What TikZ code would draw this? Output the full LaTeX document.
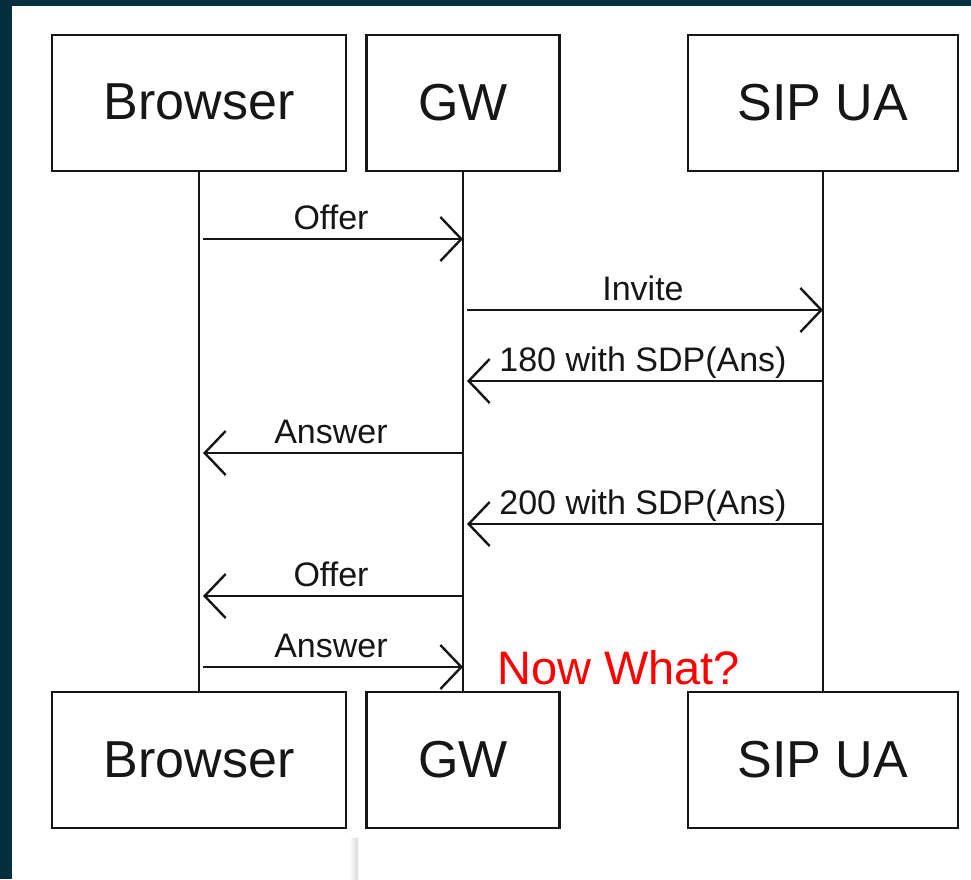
\documentclass[tikz,border=0pt]{standalone}
\usepackage{fontspec}
\setmainfont{Liberation Sans}
\usetikzlibrary{arrows.meta}

\definecolor{slate}{RGB}{6,47,61}
\definecolor{ink}{RGB}{22,22,22}

\begin{document}
\begin{tikzpicture}[x=1pt, y=-1pt,
    actor/.style={draw=ink, line width=2.4pt, fill=white, inner sep=0pt, text=ink,
        minimum height=136pt, font=\fontsize{52}{60}\selectfont, text depth=0.18em},
    life/.style={draw=ink, line width=2.4pt},
    msg/.style={draw=ink, line width=2.4pt,
        -{Straight Barb[length=21pt, width=44pt, line width=2.4pt]}},
    lbl/.style={text=ink, font=\fontsize{34}{40}\selectfont, anchor=base,
        yshift=10pt, inner sep=0pt}]
    \useasboundingbox (0,0) rectangle (971,879);

    % Frame
    \fill[slate] (0,0) rectangle (971,6);
    \fill[slate] (0,0) rectangle (12,879);
    \shade[left color=white, right color=black!15] (349,838) rectangle (358,879);

    % Participants, top and bottom
    \node[actor, minimum width=294pt] (bt) at (199,103) {Browser};
    \node[actor, minimum width=193pt] (gt) at (463,103) {GW};
    \node[actor, minimum width=270pt] (st) at (823,103) {SIP UA};
    \node[actor, minimum width=294pt] (bb) at (199,760) {Browser};
    \node[actor, minimum width=193pt] (gb) at (463,760) {GW};
    \node[actor, minimum width=270pt] (sb) at (823,760) {SIP UA};

    % Lifelines
    \draw[life] (bt.south) -- (bb.north);
    \draw[life] (gt.south) -- (gb.north);
    \draw[life] (st.south) -- (sb.north);

    % Messages
    \draw[msg, shorten <=4pt] (bt.south |- 0,239) -- node[lbl] {Offer} (gt.south |- 0,239);
    \draw[msg, shorten <=4pt] (gt.south |- 0,310) -- node[lbl] {Invite} (st.south |- 0,310);
    \draw[msg, shorten >=4pt] (st.south |- 0,381) -- node[lbl] {180 with SDP(Ans)} (gt.south |- 0,381);
    \draw[msg, shorten >=4pt] (gt.south |- 0,453) -- node[lbl] {Answer} (bt.south |- 0,453);
    \draw[msg, shorten >=4pt] (st.south |- 0,524) -- node[lbl] {200 with SDP(Ans)} (gt.south |- 0,524);
    \draw[msg, shorten >=4pt] (gt.south |- 0,596) -- node[lbl] {Offer} (bt.south |- 0,596);
    \draw[msg, shorten <=4pt] (bt.south |- 0,667) -- node[lbl] {Answer} (gt.south |- 0,667);

    % Open question
    \node[text=red, font=\fontsize{47}{56}\selectfont, anchor=base west, inner sep=0pt]
        (what) at (497,684) {Now What?};
\end{tikzpicture}
\end{document}
